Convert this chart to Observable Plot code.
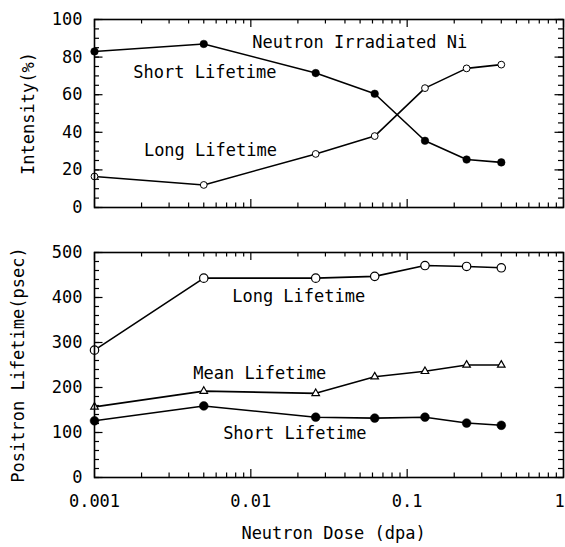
<!DOCTYPE html>
<html><head><meta charset="utf-8">
<script src="https://cdn.jsdelivr.net/npm/d3@7"></script>
<script src="https://cdn.jsdelivr.net/npm/@observablehq/plot@0.6"></script>
<style>
body{margin:0;background:#fff}
#chart{width:565px;height:547px;position:relative}
#chart svg{display:block;overflow:visible}
</style>
</head><body><div id="chart"></div>
<script>
// ---- data ----
const dose = [0.001, 0.005, 0.026, 0.062, 0.13, 0.24, 0.4];
const intensityShort = [83, 87, 71.5, 60.5, 35.5, 25.5, 24];
const intensityLong = [16.5, 12, 28.5, 38, 63.5, 74, 76];
const lifetimeLong = [283, 443, 443, 447, 471, 469, 466];
const lifetimeMean = [157, 192, 187, 224, 236, 250, 250];
const lifetimeShort = [126, 159, 134, 132, 134, 121, 116];

const xTickValues = [0.001, 0.01, 0.1, 1];
const xTickLabels = ["0.001", "0.01", "0.1", "1"];
const topYTicks = [0, 20, 40, 60, 80, 100];
const bottomYTicks = [0, 100, 200, 300, 400, 500];

const topNotes = ["Neutron Irradiated Ni", "Short Lifetime", "Long Lifetime"];
const topNoteX = [0.0102, 0.00177, 0.00207];
const topNoteY = [87.8, 71.8, 30.2];
const bottomNotes = ["Long Lifetime", "Mean Lifetime", "Short Lifetime"];
const bottomNoteX = [0.0076, 0.00428, 0.00665];
const bottomNoteY = [402, 232, 97];

const topTitle = "Intensity(%)";
const bottomTitle = "Positron Lifetime(psec)";
const xTitle = "Neutron Dose (dpa)";

// ---- styling ----
const FONT = "DejaVu Sans Mono";
const FS = 17;
const W = 565, ML = 94, MR = 2;
const FW = W - ML - MR;
const minorX = xTickValues.slice(0, 3).flatMap(d => [2,3,4,5,6,7,8,9].map(k => d * k));
const range = (a, b, s) => d3.range(a, b + s / 2, s);
const fmtX = d => xTickLabels[xTickValues.indexOf(d)];

function frameTicks(frameH, yMajor, yMinor) {
  const st = {stroke: "black", strokeWidth: 1.2};
  const majX = 8, minX = 4.5, majY = 8.5, minY = 5;
  return [
    Plot.tickX(xTickValues, {...st, insetTop: frameH - majX}),
    Plot.tickX(xTickValues, {...st, insetBottom: frameH - majX}),
    Plot.tickX(minorX, {...st, insetTop: frameH - minX}),
    Plot.tickX(minorX, {...st, insetBottom: frameH - minX}),
    Plot.tickY(yMajor, {...st, insetRight: FW - majY}),
    Plot.tickY(yMajor, {...st, insetLeft: FW - majY}),
    Plot.tickY(yMinor, {...st, insetRight: FW - minY}),
    Plot.tickY(yMinor, {...st, insetLeft: FW - minY})
  ];
}

// ---- top panel ----
const topH = 220, topMT = 19, topMB = 13;
const topPanel = Plot.plot({
  width: W, height: topH,
  marginLeft: ML, marginRight: MR, marginTop: topMT, marginBottom: topMB,
  style: {fontFamily: FONT, fontSize: FS + "px", color: "black", background: "white", overflow: "visible"},
  x: {type: "log", domain: [0.001, 1], axis: null},
  y: {domain: [0, 100], axis: null},
  marks: [
    ...frameTicks(topH - topMT - topMB, topYTicks, range(0, 100, 5)),
    Plot.axisY(topYTicks, {tickSize: 0, tickPadding: 12, fontSize: FS, fontFamily: FONT, label: null}),
    Plot.text([topTitle], {frameAnchor: "left", rotate: -90, dx: -66, textAnchor: "middle", lineAnchor: "middle", fontSize: FS, fontFamily: FONT}),
    Plot.line(intensityShort, {x: dose, y: Plot.identity, stroke: "black", strokeWidth: 1.6}),
    Plot.line(intensityLong, {x: dose, y: Plot.identity, stroke: "black", strokeWidth: 1.6}),
    Plot.dot(intensityShort, {x: dose, y: Plot.identity, r: 3.8, fill: "black", stroke: "black", strokeWidth: 0.5}),
    Plot.dot(intensityLong, {x: dose, y: Plot.identity, r: 3.4, fill: "white", stroke: "black", strokeWidth: 1}),
    Plot.text(topNotes, {x: topNoteX, y: topNoteY, text: Plot.identity, textAnchor: "start", lineAnchor: "middle", fontSize: FS, fontFamily: FONT}),
    Plot.frame({stroke: "black", strokeWidth: 1.6})
  ]
});

// ---- bottom panel ----
const botH = 327, botMT = 32, botMB = 70;
const bottomPanel = Plot.plot({
  width: W, height: botH,
  marginLeft: ML, marginRight: MR, marginTop: botMT, marginBottom: botMB,
  style: {fontFamily: FONT, fontSize: FS + "px", color: "black", background: "white", overflow: "visible"},
  x: {type: "log", domain: [0.001, 1]},
  y: {domain: [0, 500]},
  marks: [
    ...frameTicks(botH - botMT - botMB, bottomYTicks, range(0, 500, 20)),
    Plot.axisY(bottomYTicks, {tickSize: 0, tickPadding: 12, fontSize: FS, fontFamily: FONT, label: null}),
    Plot.axisX(xTickValues.slice(0, 3), {tickSize: 0, tickPadding: 17, tickFormat: fmtX, fontSize: FS, fontFamily: FONT, label: null}),
    Plot.axisX(xTickValues.slice(3), {tickSize: 0, tickPadding: 17, tickFormat: fmtX, dx: -4, fontSize: FS, fontFamily: FONT, label: null}),
    Plot.text([bottomTitle], {frameAnchor: "left", rotate: -90, dx: -76, textAnchor: "middle", lineAnchor: "middle", fontSize: FS, fontFamily: FONT}),
    Plot.text([xTitle], {frameAnchor: "bottom", dy: 56, dx: 4.5, textAnchor: "middle", lineAnchor: "middle", fontSize: FS, fontFamily: FONT}),
    Plot.line(lifetimeLong, {x: dose, y: Plot.identity, stroke: "black", strokeWidth: 1.6}),
    Plot.line(lifetimeMean, {x: dose, y: Plot.identity, stroke: "black", strokeWidth: 1.6}),
    Plot.line(lifetimeShort, {x: dose, y: Plot.identity, stroke: "black", strokeWidth: 1.6}),
    Plot.dot(lifetimeLong, {x: dose, y: Plot.identity, r: 4.2, fill: "white", stroke: "black", strokeWidth: 1.2}),
    Plot.dot(lifetimeMean, {x: dose, y: Plot.identity, symbol: "triangle", r: 2.8, fill: "white", stroke: "black", strokeWidth: 1.2}),
    Plot.dot(lifetimeShort, {x: dose, y: Plot.identity, r: 4.4, fill: "black", stroke: "black", strokeWidth: 0.5}),
    Plot.text(bottomNotes, {x: bottomNoteX, y: bottomNoteY, text: Plot.identity, textAnchor: "start", lineAnchor: "middle", fontSize: FS, fontFamily: FONT}),
    Plot.frame({stroke: "black", strokeWidth: 1.6})
  ]
});

const el = document.getElementById("chart");
el.appendChild(topPanel);
el.appendChild(bottomPanel);
</script>
</body></html>
